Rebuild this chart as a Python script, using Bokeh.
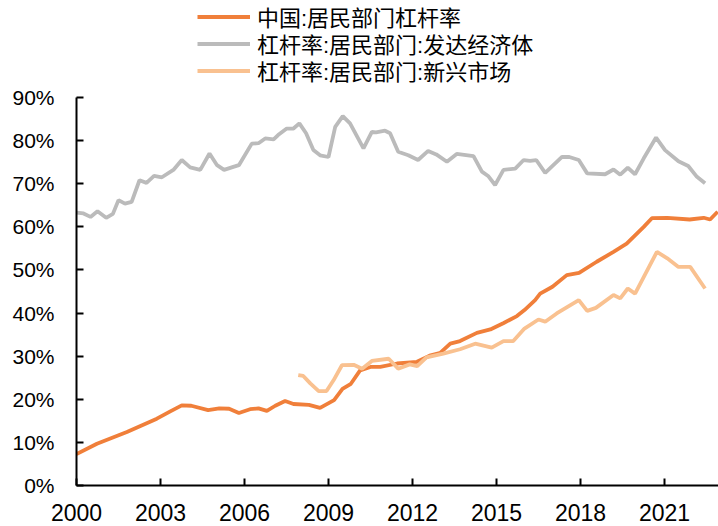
from bokeh.plotting import figure
from bokeh.models import Legend, LegendItem, FixedTicker, Range1d
from bokeh.embed import file_html
from bokeh.resources import INLINE

# 中国:居民部门杠杆率
cn_year = [2000.0, 2000.73, 2001.8, 2002.87, 2003.35, 2003.76, 2004.1, 2004.7, 2005.1, 2005.45,
           2005.8, 2006.2, 2006.5, 2006.8, 2007.1, 2007.45, 2007.75, 2008.3, 2008.7, 2009.2,
           2009.5, 2009.8, 2010.13, 2010.5, 2010.85, 2011.45, 2012.16, 2012.65, 2013.0, 2013.35,
           2013.7, 2014.3, 2014.78, 2015.26, 2015.73, 2016.0, 2016.38, 2016.56, 2017.0, 2017.51,
           2017.95, 2018.58, 2019.18, 2019.65, 2020.26, 2020.55, 2021.1, 2021.9, 2022.4, 2022.63,
           2022.9]
cn_val = [7.3, 9.7, 12.4, 15.5, 17.2, 18.6, 18.5, 17.5, 17.9, 17.8,
          16.8, 17.7, 17.9, 17.3, 18.5, 19.6, 18.9, 18.7, 18.0, 19.8,
          22.4, 23.6, 26.7, 27.5, 27.5, 28.3, 28.7, 30.2, 30.8, 32.9,
          33.5, 35.4, 36.2, 37.7, 39.3, 40.7, 43.0, 44.5, 46.1, 48.8,
          49.3, 51.9, 54.2, 56.1, 60.0, 62.0, 62.1, 61.7, 62.1, 61.7,
          63.5]

# 杠杆率:居民部门:发达经济体
dev_year = [2000.0, 2000.25, 2000.5, 2000.75, 2001.06, 2001.3, 2001.5, 2001.73, 2001.97, 2002.25,
            2002.5, 2002.77, 2003.05, 2003.46, 2003.76, 2004.06, 2004.42, 2004.75, 2005.02, 2005.27,
            2005.6, 2005.8, 2006.26, 2006.5, 2006.74, 2007.04, 2007.2, 2007.51, 2007.75, 2007.96,
            2008.2, 2008.46, 2008.7, 2009.0, 2009.24, 2009.51, 2009.77, 2010.25, 2010.55, 2010.7,
            2011.02, 2011.2, 2011.49, 2011.85, 2012.2, 2012.56, 2012.85, 2013.23, 2013.58, 2014.18,
            2014.48, 2014.7, 2014.95, 2015.25, 2015.67, 2015.97, 2016.2, 2016.42, 2016.74, 2017.34,
            2017.6, 2017.94, 2018.24, 2018.88, 2019.18, 2019.42, 2019.69, 2019.95, 2020.26, 2020.7,
            2021.02, 2021.5, 2021.85, 2022.16, 2022.45]
dev_val = [63.3, 63.1, 62.3, 63.6, 62.1, 63.0, 66.2, 65.4, 65.8, 70.8,
           70.2, 71.8, 71.5, 73.2, 75.5, 73.8, 73.2, 77.0, 74.3, 73.2,
           73.9, 74.3, 79.3, 79.4, 80.5, 80.3, 81.3, 82.8, 82.8, 84.0,
           81.7, 77.8, 76.6, 76.2, 83.2, 85.7, 84.0, 78.2, 82.0, 81.9,
           82.3, 81.7, 77.4, 76.6, 75.5, 77.6, 76.8, 75.1, 76.9, 76.4,
           72.8, 71.8, 69.7, 73.2, 73.5, 75.5, 75.3, 75.5, 72.5, 76.2,
           76.2, 75.5, 72.4, 72.2, 73.3, 72.1, 73.7, 72.2, 75.9, 80.7,
           77.8, 75.2, 74.1, 71.6, 70.1]

# 杠杆率:居民部门:新兴市场
em_year = [2007.92, 2008.1, 2008.35, 2008.65, 2008.93, 2009.18, 2009.48, 2009.9, 2010.2, 2010.55,
           2011.15, 2011.49, 2011.9, 2012.17, 2012.5, 2013.1, 2013.7, 2014.24, 2014.83, 2015.25,
           2015.6, 2016.0, 2016.5, 2016.74, 2017.15, 2017.94, 2018.24, 2018.55, 2019.18, 2019.42,
           2019.69, 2019.95, 2020.73, 2021.1, 2021.5, 2021.92, 2022.45]
em_val = [25.6, 25.4, 23.7, 21.9, 21.9, 24.4, 27.9, 28.0, 27.1, 28.9,
          29.4, 27.1, 28.1, 27.7, 29.7, 30.6, 31.6, 32.9, 32.0, 33.5,
          33.5, 36.4, 38.5, 38.0, 39.9, 43.0, 40.5, 41.2, 44.2, 43.4,
          45.7, 44.5, 54.2, 52.7, 50.7, 50.7, 45.7]

x_ticks = [2000, 2003, 2006, 2009, 2012, 2015, 2018, 2021]
y_ticks = [0, 10, 20, 30, 40, 50, 60, 70, 80, 90]
labels = ["中国:居民部门杠杆率", "杠杆率:居民部门:发达经济体", "杠杆率:居民部门:新兴市场"]

C_CN = "#F07F3A"
C_DEV = "#BBBBBB"
C_EM = "#F9C190"

p = figure(width=718, height=526, output_backend="svg", toolbar_location=None,
           x_range=Range1d(2000, 2022.93), y_range=Range1d(0, 112.5),
           min_border_left=76, min_border_right=0, min_border_top=0, min_border_bottom=41)
p.outline_line_color = None
p.grid.visible = False
p.background_fill_color = "white"
p.border_fill_color = "white"

r_cn = p.line(cn_year, cn_val, line_color=C_CN, line_width=3.8)
r_dev = p.line(dev_year, dev_val, line_color=C_DEV, line_width=3.8)
r_em = p.line(em_year, em_val, line_color=C_EM, line_width=3.8)

for ax in (p.xaxis[0], p.yaxis[0]):
    ax.axis_line_color = "black"
    ax.axis_line_width = 2
    ax.major_tick_line_color = "black"
    ax.major_tick_line_width = 2
    ax.major_tick_in = 7
    ax.major_tick_out = 0
    ax.minor_tick_line_color = None
    ax.major_label_text_font = "Liberation Sans"
    ax.major_label_text_color = "black"

p.xaxis[0].ticker = FixedTicker(ticks=x_ticks)
p.xaxis[0].major_label_text_font_size = "23px"
p.xaxis[0].major_label_standoff = 18
p.yaxis[0].ticker = FixedTicker(ticks=y_ticks)
p.yaxis[0].bounds = (0, 90)
p.yaxis[0].major_label_overrides = {t: f"{t}%" for t in y_ticks}
p.yaxis[0].major_label_text_font_size = "21px"
p.yaxis[0].major_label_standoff = 22

# one single-item legend per row, so that rows sit 27px apart as in the reference
for renderer, label, loc_y in zip([r_cn, r_dev, r_em], labels, [453, 426, 399]):
    lg = Legend(items=[LegendItem(label=label, renderers=[renderer])],
                location=(121, loc_y), orientation="vertical",
                label_text_font="Liberation Sans, Noto Sans CJK SC", label_text_font_size="22px",
                label_text_color="black", glyph_width=53, glyph_height=27,
                label_height=27, label_standoff=7, spacing=0, padding=0, margin=0,
                border_line_color=None, background_fill_alpha=0)
    p.add_layout(lg, "center")

open("out.html", "w").write(file_html(p, INLINE))
